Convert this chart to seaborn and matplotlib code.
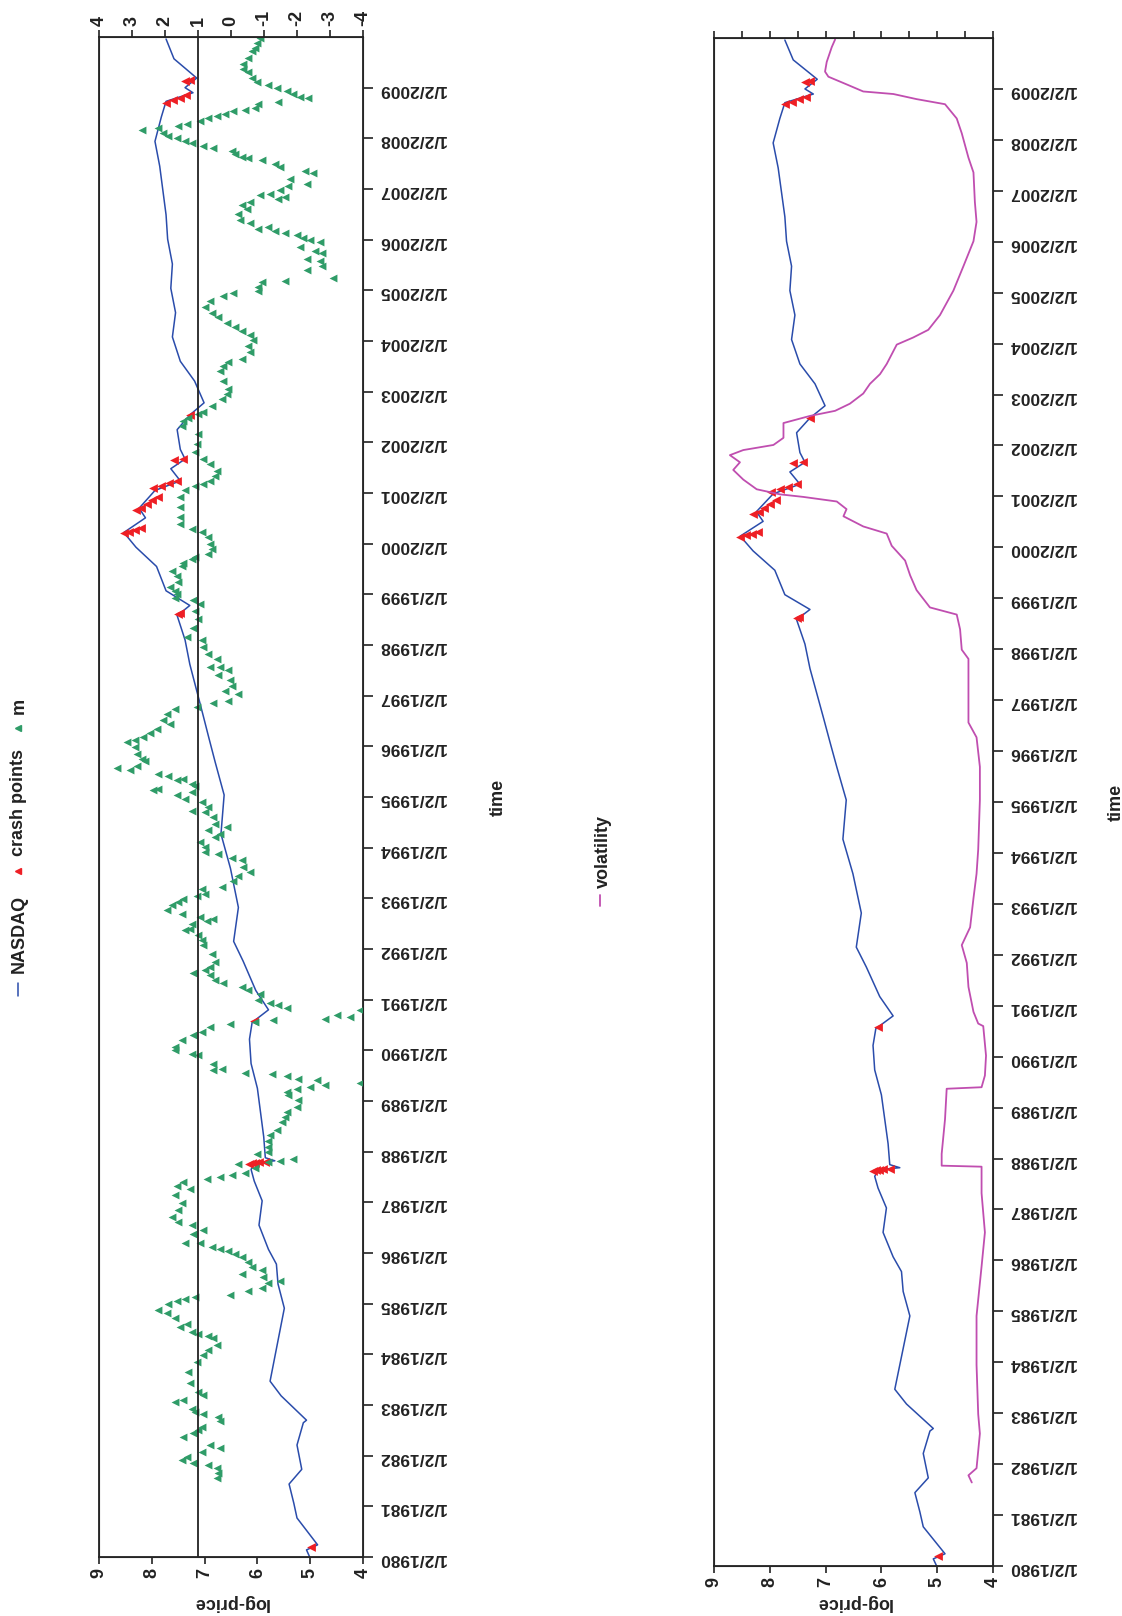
import matplotlib
matplotlib.use("Agg")
import matplotlib.pyplot as plt
import seaborn as sns
from matplotlib.lines import Line2D

# NASDAQ log-price (decimal year, ln price)
nasdaq_year = [1980.00, 1980.14, 1980.24, 1980.77, 1981.06, 1981.44, 1981.73, 1982.21, 1982.65, 1982.70,
               1983.18, 1983.47, 1983.95, 1984.43, 1984.91, 1985.39, 1985.78, 1986.07, 1986.55, 1987.03,
               1987.42, 1987.65, 1987.78, 1987.82, 1987.88, 1988.29, 1988.77, 1989.25, 1989.74, 1990.22,
               1990.55, 1990.80, 1991.18, 1991.76, 1992.15, 1992.82, 1993.59, 1994.27, 1995.04, 1995.69,
               1996.17, 1996.66, 1997.14, 1997.62, 1998.10, 1998.58, 1998.78, 1999.07, 1999.55, 1999.93,
               2000.22, 2000.51, 2000.70, 2001.05, 2001.24, 2001.48, 2001.67, 2001.86, 2002.25, 2002.54,
               2002.78, 2003.21, 2003.60, 2004.08, 2004.56, 2005.04, 2005.52, 2006.01, 2006.49, 2006.97,
               2007.45, 2007.94, 2008.42, 2008.73, 2008.90, 2009.00, 2009.19, 2009.57, 2009.96]
nasdaq_logprice = [5.01, 5.07, 4.86, 5.25, 5.31, 5.40, 5.16, 5.25, 5.13, 5.07,
                   5.55, 5.76, 5.67, 5.58, 5.49, 5.61, 5.64, 5.79, 5.97, 5.91,
                   6.06, 6.12, 6.05, 5.67, 5.85, 5.88, 5.94, 6.00, 6.12, 6.15,
                   6.10, 5.79, 6.03, 6.27, 6.45, 6.36, 6.51, 6.69, 6.63, 6.80,
                   6.92, 7.04, 7.16, 7.28, 7.37, 7.52, 7.28, 7.73, 7.91, 8.30,
                   8.53, 8.12, 8.24, 7.94, 7.46, 7.64, 7.37, 7.46, 7.52, 7.28,
                   7.01, 7.19, 7.46, 7.61, 7.55, 7.64, 7.61, 7.70, 7.73, 7.79,
                   7.85, 7.94, 7.82, 7.73, 7.22, 7.37, 7.15, 7.58, 7.73]

# crash points
crash_year = [1980.19, 1987.76, 1987.77, 1987.78, 1987.79, 1987.80, 1990.58, 1998.62, 1998.64,
              2000.21, 2000.24, 2000.27, 2000.31, 2000.66, 2000.70, 2000.78, 2000.86, 2000.92,
              2001.09, 2001.14, 2001.19, 2001.24, 2001.66, 2001.68, 2002.54,
              2008.70, 2008.75, 2008.80, 2008.85, 2009.14, 2009.15]
crash_logprice = [4.98, 6.15, 6.10, 6.04, 5.97, 5.85, 6.06, 7.51, 7.47,
                  8.53, 8.43, 8.32, 8.21, 8.30, 8.20, 8.10, 8.00, 7.88,
                  7.97, 7.82, 7.67, 7.52, 7.58, 7.40, 7.28,
                  7.73, 7.60, 7.47, 7.35, 7.37, 7.28]

# m (secondary axis, top panel)
m_year = [2009.99, 2009.89, 2009.79, 2009.73, 2009.59, 2009.46, 2009.36, 2009.30, 2009.20, 2009.12,
          2009.05, 2008.99, 2008.94, 2008.88, 2008.81, 2008.79, 2008.72, 2008.67, 2008.59, 2008.56,
          2008.53, 2008.49, 2008.44, 2008.40, 2008.34, 2008.28, 2008.24, 2008.20, 2008.17, 2008.11,
          2008.05, 2008.00, 2007.95, 2007.90, 2007.84, 2007.80, 2007.75, 2007.69, 2007.63, 2007.61,
          2007.57, 2007.50, 2007.44, 2007.36, 2007.31, 2007.19, 2007.10, 2007.05, 2006.98, 2006.91,
          2006.88, 2006.85, 2006.80, 2006.75, 2006.69, 2006.60, 2006.50, 2006.39, 2006.32, 2006.25,
          2006.21, 2006.18, 2006.13, 2006.10, 2006.03, 2006.00, 2005.96, 2005.85, 2005.78, 2005.73,
          2005.61, 2005.58, 2005.48, 2005.40, 2005.25, 2005.18, 2005.16, 2005.06, 2004.99, 2004.94,
          2004.89, 2004.79, 2004.68, 2004.56, 2004.47, 2004.35, 2004.27, 2004.20, 2004.12, 2004.02,
          2003.91, 2003.78, 2003.64, 2003.58, 2003.51, 2003.41, 2003.22, 2003.05, 2002.95, 2002.85,
          2002.72, 2002.59, 2002.56, 2002.49, 2002.43, 2002.33, 2002.16, 2001.97, 2001.80, 2001.67,
          2001.57, 2001.44, 2001.34, 2001.24, 2001.18, 2001.13, 2001.05, 2000.92, 2000.72, 2000.52,
          2000.39, 2000.29, 2000.23, 2000.13,
          1999.99, 1999.90, 1999.80, 1999.74, 1999.70, 1999.61, 1999.55, 1999.46, 1999.37, 1999.24,
          1999.14, 1999.07, 1999.01, 1998.93, 1998.88, 1998.80, 1998.68, 1998.51, 1998.34, 1998.15,
          1998.09, 1997.97, 1997.82, 1997.73, 1997.56, 1997.57, 1997.50, 1997.40, 1997.30, 1997.20,
          1997.10, 1997.04, 1996.90, 1996.85, 1996.77, 1996.74, 1996.64, 1996.51, 1996.44, 1996.35,
          1996.26, 1996.18, 1996.13, 1996.08, 1995.98, 1995.85, 1995.75, 1995.72, 1995.62, 1995.54,
          1995.57, 1995.46, 1995.41, 1995.33, 1995.36, 1995.26, 1995.21, 1995.16, 1995.13, 1995.03,
          1994.96, 1995.10, 1994.73, 1994.90, 1994.80, 1994.70, 1994.60, 1994.47, 1994.41, 1994.27,
          1994.21, 1994.34, 1994.11, 1994.01, 1993.91, 1993.87, 1993.80, 1993.75, 1993.62, 1993.52,
          1993.45, 1993.35, 1993.22, 1993.19, 1993.09, 1993.04, 1992.99, 1992.93, 1992.86, 1992.76,
          1992.70, 1992.63, 1992.56, 1992.60, 1992.50, 1992.37, 1992.40, 1992.27, 1992.17, 1992.07,
          1991.91, 1991.74, 1991.64, 1991.58, 1991.53, 1991.48, 1991.38, 1991.32, 1991.25, 1991.20,
          1991.12, 1990.99, 1990.93, 1990.89, 1990.84, 1990.61, 1990.69, 1990.66, 1990.79, 1990.59,
          1990.56, 1990.51, 1990.46, 1990.36, 1990.30, 1990.20, 1990.07,
          1990.00, 1989.93, 1989.90, 1989.74, 1989.64, 1989.61, 1989.55, 1989.53, 1989.49, 1989.44,
          1989.41, 1989.32, 1989.36, 1989.28, 1989.24, 1989.18, 1989.11, 1989.01, 1988.88, 1988.78,
          1988.69, 1988.59, 1988.42, 1988.32, 1988.22, 1988.09, 1987.99, 1987.95, 1987.82, 1987.86,
          1987.80, 1987.67, 1987.76, 1987.58, 1987.53, 1987.50, 1987.47, 1987.40, 1987.32, 1987.27,
          1987.14, 1986.98, 1986.84, 1986.71, 1986.61, 1986.55, 1986.45, 1986.38, 1986.20, 1986.19,
          1986.12, 1986.07, 1986.04, 1985.99, 1985.92, 1985.83, 1985.73, 1985.66, 1985.59, 1985.53,
          1985.44, 1985.40, 1985.30, 1985.25, 1985.18, 1985.13, 1985.10, 1985.06, 1985.00, 1984.88,
          1984.81, 1984.71, 1984.54, 1984.60, 1984.44, 1984.41, 1984.36, 1984.33, 1984.18, 1984.08,
          1983.98, 1983.85, 1983.66, 1983.43, 1983.26, 1983.20, 1983.06, 1983.10, 1982.93, 1982.87,
          1982.83, 1982.77, 1982.69, 1982.57, 1982.50, 1982.45, 1982.37, 1982.21, 1982.16, 1982.08,
          1981.98, 1981.91, 1981.85, 1981.81, 1981.75, 1981.65, 1981.55]
m_value = [-0.88, -0.78, -0.73, -0.63, -0.53, -0.37, -0.37, -0.53, -0.63, -0.78,
           -1.13, -1.38, -1.69, -1.89, -2.09, -2.34, -1.43, -0.83, -0.73, -0.42,
           -0.07, 0.18, 0.43, 0.69, 0.94, 1.34, 1.62, 2.20, 2.71, 2.05,
           1.90, 1.65, 1.39, 1.19, 0.84, 0.54, -0.02, -0.12, -0.32, -0.53,
           -0.93, -1.33, -1.48, -2.24, -2.49, -1.79, -2.29, -1.74, -1.48, -1.18,
           -0.88, -1.64, -1.43, -0.58, -0.32, -0.47, -0.22, -0.27, -0.58, -1.13,
           -0.83, -1.33, -1.64, -1.99, -2.19, -2.39, -2.70, -2.09, -2.55, -2.75,
           -2.29, -2.70, -2.75, -2.29, -3.10, -1.64, -0.93, -0.83, -0.83, -0.07,
           0.23, 0.64, 0.79, 0.59, 0.38, 0.13, -0.12, -0.32, -0.58, -0.68,
           -0.53, -0.58, -0.32, 0.08, 0.23, 0.33, 0.23, 0.08, 0.13, 0.28,
           0.59, 0.84, 0.99, 1.29, 1.44, 1.49, 0.99, 1.04, 1.09, 0.84,
           0.64, 0.43, 0.48, 0.64, 0.84, 1.09, 1.39, 1.55, 1.55, 1.55,
           1.55, 1.19, 0.89, 0.69,
           0.64, 0.59, 0.69, 1.09, 1.19, 1.44, 1.49, 1.80, 1.65, 1.60,
           1.85, 1.70, 1.65, 1.70, 1.14, 0.94, 1.09, 0.99, 1.14, 1.34,
           0.89, 0.84, 0.69, 0.43, 0.64, 0.33, 0.08, 0.38, 0.03, -0.02,
           0.18, -0.22, 0.08, 0.54, 1.04, 1.70, 1.95, 2.05, 1.85, 2.25,
           2.45, 2.66, 2.91, 3.16, 2.91, 2.86, 2.71, 2.61, 2.86, 3.06,
           3.46, 2.20, 1.90, 1.65, 1.44, 1.19, 1.09, 2.20, 2.35, 1.65,
           1.39, 1.19, 1.19, 0.89, 0.69, 0.79, 0.54, 0.48, 0.13, 0.33,
           0.48, 0.69, 0.94, 0.79, 0.79, 0.38, -0.02, -0.32, -0.37, -0.58,
           -0.22, -0.07, 0.28, 0.89, 0.79, 1.04, 1.44, 1.60, 1.80, 1.95,
           1.49, 0.94, 0.74, 0.54, 1.19, 1.39, 1.24, 0.99, 0.89, 0.84,
           0.59, 0.48, 0.64, 0.79, 1.14, 0.64, 0.48, 0.23, -0.32, -0.53,
           -0.88, -0.83, -1.18, -1.43, -1.69, -2.85, -3.20, -3.61, -3.91, -1.28,
           -0.73, 0.03, 0.64, 0.89, 1.14, 1.49, 1.70,
           1.70, 1.19, 0.99, 0.54, 0.28, 0.54, -0.42, -1.23, -1.69, -2.04,
           -2.60, -2.85, -3.91, -2.39, -1.99, -1.69, -1.74, -2.04, -1.99, -1.69,
           -1.64, -1.54, -1.38, -1.18, -1.13, -1.13, -1.13, -0.78, -1.48, -1.89,
           -1.13, -0.73, -0.22, -0.42, -0.02, 0.33, 0.74, 1.44, 1.65, 1.24,
           1.70, 1.49, 1.60, 1.80, 1.60, 1.19, 0.84, 1.14, 1.39, 0.94,
           0.59, 0.33, 0.08, -0.12, -0.32, -0.53, -0.63, -0.93, -0.32, -0.98,
           -1.48, -1.13, -0.93, -0.53, 0.03, 1.09, 1.39, 1.65, 1.90, 2.20,
           1.95, 1.70, 1.55, 1.34, 1.19, 0.99, 0.69, 0.54, 0.43, 0.69,
           0.84, 1.04, 1.29, 1.24, 0.99, 0.84, 1.70, 1.44, 1.19, 1.09,
           0.84, 0.38, 0.33, 0.89, 0.99, 1.14, 1.44, 0.64, 0.33, 0.89,
           1.34, 1.49, 1.14, 0.69, 0.43, 0.38, 0.43]

# volatility (unlabelled secondary axis of the lower panel, 0..10)
vol_year = [1981.64, 1981.78, 1981.92, 1982.60, 1982.98, 1983.95, 1984.91, 1985.88, 1986.55, 1987.32,
            1987.84, 1987.86, 1988.09, 1988.77, 1989.37, 1989.40, 1989.63, 1990.02, 1990.60, 1990.65,
            1990.88, 1991.37, 1991.84, 1992.19, 1992.54, 1993.11, 1993.59, 1994.07, 1995.04, 1995.69,
            1996.27, 1996.56, 1997.14, 1997.81, 1997.99, 1998.39, 1998.68, 1998.82, 1999.16, 1999.45,
            1999.74, 2000.03, 2000.27, 2000.41, 2000.61, 2000.75, 2000.90, 2000.99, 2001.04, 2001.14,
            2001.33, 2001.52, 2001.67, 2001.81, 2001.91, 2002.01, 2002.15, 2002.44, 2002.58, 2002.68,
            2002.82, 2003.02, 2003.21, 2003.40, 2003.60, 2003.98, 2004.12, 2004.27, 2004.56, 2005.04,
            2005.52, 2006.01, 2006.39, 2006.78, 2007.36, 2007.65, 2008.13, 2008.42, 2008.70, 2008.80,
            2008.90, 2008.95, 2009.09, 2009.24, 2009.34, 2009.53, 2009.82, 2009.97]
vol_value = [0.76, 0.88, 0.59, 0.47, 0.53, 0.59, 0.59, 0.41, 0.29, 0.41,
             0.41, 1.84, 1.84, 1.72, 1.66, 0.41, 0.29, 0.25, 0.35, 0.53,
             0.70, 0.88, 0.94, 1.12, 0.82, 0.70, 0.59, 0.53, 0.47, 0.47,
             0.59, 0.88, 0.88, 0.88, 1.12, 1.18, 1.30, 2.26, 2.74, 2.97,
             3.15, 3.63, 3.81, 4.65, 5.36, 5.25, 5.60, 6.80, 7.63, 8.47,
             8.95, 9.31, 9.07, 9.43, 8.95, 7.87, 7.51, 7.51, 6.56, 5.66,
             5.13, 4.65, 4.41, 4.05, 3.81, 3.45, 2.86, 2.32, 1.90, 1.42,
             1.06, 0.70, 0.59, 0.65, 0.70, 0.88, 1.12, 1.30, 1.72, 2.74,
             3.57, 4.65, 5.25, 5.90, 6.02, 5.96, 5.78, 5.66]

year_ticks = list(range(1980, 2010))
year_labels = [f"1/2/{y}" for y in year_ticks]
price_ticks = [9, 8, 7, 6, 5, 4]
m_ticks = [4, 3, 2, 1, 0, -1, -2, -3, -4]

BLUE = "#2a4cab"
RED = "#ee1f25"
GREEN = "#2f9c68"
MAGENTA = "#c04eb0"
INK = "#222222"

sns.set_style("white")
plt.rcParams["font.family"] = ["Liberation Sans", "DejaVu Sans"]
plt.rcParams["font.weight"] = "bold"

fig = plt.figure(figsize=(11.22, 16.16), dpi=100)
ax1 = fig.add_axes([99 / 1122, 59 / 1616, 264 / 1122, 1520 / 1616])
ax2 = fig.add_axes([714 / 1122, 50 / 1616, 279 / 1122, 1528 / 1616])


def style_price_axis(ax, time_x, label_y):
    ax.set_xlim(9, 4)
    ax.set_ylim(1980, 2010)
    ax.set_xticks(price_ticks)
    ax.set_xticklabels([str(t) for t in price_ticks], rotation=90)
    ax.yaxis.tick_right()
    ax.set_yticks(year_ticks)
    ax.set_yticklabels(year_labels, rotation=180)
    ax.tick_params(axis="x", bottom=True, direction="out", length=5, width=1.2,
                   labelsize=13, pad=3, colors=INK)
    ax.tick_params(axis="y", right=True, left=False, direction="out", length=7, width=1.2,
                   labelsize=12.5, pad=4, colors=INK)
    ax.set_xlabel("log-price", rotation=180, fontsize=13, fontweight="bold", color=INK,
                  va="center")
    ax.xaxis.set_label_coords(0.5, label_y)
    ax.yaxis.set_label_position("right")
    ax.set_ylabel("time", rotation=90, fontsize=13, fontweight="bold", color=INK)
    ax.yaxis.set_label_coords(time_x, 0.5)
    for s in ax.spines.values():
        s.set_linewidth(1.3)
        s.set_color(INK)


# ---- top panel: log-price, crash points and m ----
sns.lineplot(x=nasdaq_logprice, y=nasdaq_year, sort=False, estimator=None,
             color=BLUE, linewidth=1.1, ax=ax1)
sns.scatterplot(x=crash_logprice, y=crash_year, marker="<", s=40, color=RED,
                linewidth=0, ax=ax1, zorder=3)
style_price_axis(ax1, 1.48, -0.0300)

axm = ax1.twiny()
axm.axvline(1, color=INK, linewidth=1.3)
sns.scatterplot(x=m_value, y=m_year, marker="<", s=32, color=GREEN, linewidth=0, ax=axm)
axm.set_xlim(4, -4)
axm.set_ylim(1980, 2010)
axm.set_xticks(m_ticks)
axm.set_xticklabels([str(t) for t in m_ticks], rotation=90)
axm.tick_params(axis="x", top=True, direction="out", length=5, width=1.2,
                labelsize=13, pad=3, colors=INK)
axm.set_xlabel("")
axm.set_ylabel("")

# ---- bottom panel: log-price and volatility ----
sns.lineplot(x=nasdaq_logprice, y=nasdaq_year, sort=False, estimator=None,
             color=BLUE, linewidth=1.1, ax=ax2)
sns.scatterplot(x=crash_logprice, y=crash_year, marker="<", s=40, color=RED,
                linewidth=0, ax=ax2, zorder=3)
style_price_axis(ax2, 1.41, -0.0242)

axv = ax2.twiny()
sns.lineplot(x=vol_value, y=vol_year, sort=False, estimator=None,
             color=MAGENTA, linewidth=1.3, ax=axv)
axv.set_xlim(10, 0)
axv.set_ylim(1980, 2010)
axv.set_xticks(range(0, 11))
axv.set_xticklabels([])
axv.tick_params(axis="x", top=True, direction="out", length=5, width=1.2, colors=INK)
axv.set_xlabel("")
axv.set_ylabel("")

# ---- legends (rotated like the rest of the page) ----
def fy(py):
    return 1 - py / 1616


fig.add_artist(Line2D([18 / 1122, 18 / 1122], [fy(996), fy(983)], color=BLUE, linewidth=1.1,
                      transform=fig.transFigure))
fig.text(19 / 1122, fy(934), "NASDAQ", rotation=90, ha="center", va="center",
         fontsize=13, fontweight="bold", color=INK)
fig.add_artist(Line2D([18 / 1122], [fy(871)], marker="<", markersize=5, color=RED,
                      linestyle="none", transform=fig.transFigure))
fig.text(19 / 1122, fy(802), "crash points", rotation=90, ha="center", va="center",
         fontsize=13, fontweight="bold", color=INK)
fig.add_artist(Line2D([18 / 1122], [fy(728)], marker="<", markersize=5, color=GREEN,
                      linestyle="none", transform=fig.transFigure))
fig.text(19 / 1122, fy(706), "m", rotation=90, ha="center", va="center",
         fontsize=13, fontweight="bold", color=INK)

fig.add_artist(Line2D([600 / 1122, 600 / 1122], [fy(906), fy(895)], color=MAGENTA, linewidth=1.3,
                      transform=fig.transFigure))
fig.text(603 / 1122, fy(851), "volatility", rotation=90, ha="center", va="center",
         fontsize=13, fontweight="bold", color=INK)

fig.savefig("out.png", dpi=100)
